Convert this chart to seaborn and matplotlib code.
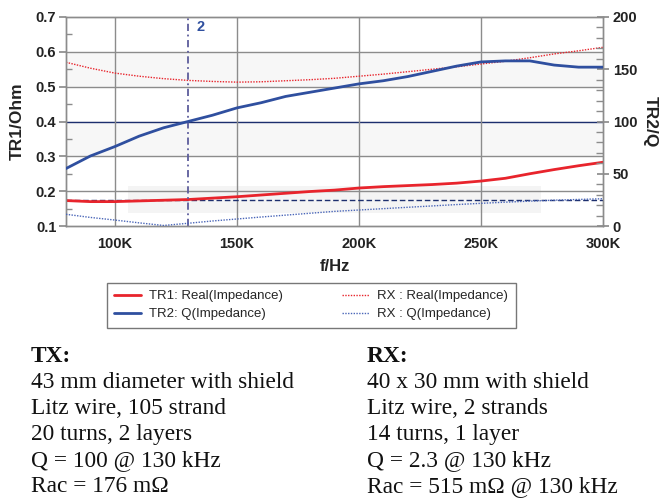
import matplotlib
matplotlib.use("Agg")
import matplotlib.pyplot as plt
import seaborn as sns
import pandas as pd
from matplotlib.patches import Rectangle
from matplotlib.ticker import MultipleLocator, FuncFormatter

# ---------------- data ----------------
freq_khz = [80, 90, 100, 110, 120, 130, 140, 150, 160, 170, 180, 190,
            200, 210, 220, 230, 240, 250, 260, 270, 280, 290, 300]
tr1_real = [0.173, 0.170, 0.170, 0.172, 0.174, 0.176, 0.180, 0.184, 0.189, 0.194, 0.199, 0.203,
            0.209, 0.213, 0.216, 0.219, 0.223, 0.229, 0.237, 0.250, 0.262, 0.273, 0.283]
tr2_q = [55, 67, 76, 86, 94, 100, 106, 113, 118, 124, 128, 132,
         136, 139, 143, 148, 153, 157, 158, 158, 154, 152, 152]
rx_real = [0.570, 0.553, 0.539, 0.530, 0.523, 0.518, 0.515, 0.513, 0.514, 0.517, 0.520, 0.524,
           0.530, 0.536, 0.543, 0.550, 0.557, 0.565, 0.573, 0.583, 0.594, 0.603, 0.613]
rx_q = [11.2, 8.2, 5.7, 3.0, 0.5, 2.6, 4.8, 6.7, 8.6, 10.4, 12.2, 14.0,
        15.3, 16.6, 17.9, 19.2, 20.5, 21.7, 22.8, 23.8, 24.7, 25.4, 26.1]
marker_freq_khz = 130
rac_ref = 0.176
x_ticks_khz = [100, 150, 200, 250, 300]
legend_labels = ["TR1: Real(Impedance)", "TR2: Q(Impedance)",
                 "RX : Real(Impedance)", "RX : Q(Impedance)"]
tx_lines = ["43 mm diameter with shield", "Litz wire, 105 strand", "20 turns, 2 layers",
            "Q = 100 @ 130 kHz", "Rac = 176 mΩ"]
rx_lines = ["40 x 30 mm with shield", "Litz wire, 2 strands", "14 turns, 1 layer",
            "Q = 2.3 @ 130 kHz", "Rac = 515 mΩ @ 130 kHz"]

df = pd.DataFrame({"f": [v * 1000 for v in freq_khz], "tr1": tr1_real, "tr2": tr2_q,
                   "rxr": rx_real, "rxq": rx_q})

# ---------------- style ----------------
sns.set_theme(style="white")
plt.rcParams["font.family"] = ["Liberation Sans", "DejaVu Sans"]

RED = "#e8242c"
BLUE = "#2f4f9f"
NAVY = "#1d2f6e"
GRID = "#8c8c8c"
BAND = "#f7f7f7"
TXT = "#222222"

fig = plt.figure(figsize=(6.62, 4.99), dpi=100)
ax = fig.add_axes([66 / 662, 1 - 226 / 499, (603 - 66) / 662, (226 - 17) / 499])
ax2 = ax.twinx()

ax.set_xlim(80000, 300000)
ax.set_ylim(0.1, 0.7)
ax2.set_ylim(0, 200)

# background bands
ax.axhspan(0.5, 0.6, color=BAND, zorder=0, lw=0)
ax.axhspan(0.3, 0.4, color=BAND, zorder=0, lw=0)
ax.add_patch(Rectangle((105500, 0.138), 274500 - 105500, 0.215 - 0.138,
                       facecolor="#f4f4f4", edgecolor="none", zorder=0))

# grid
for yv in [0.2, 0.3, 0.5, 0.6]:
    ax.axhline(yv, color=GRID, lw=1.0, zorder=1)
ax.axhline(0.4, color=NAVY, lw=1.0, zorder=1)
for xv in [100000, 150000, 200000, 250000]:
    ax.axvline(xv, color=GRID, lw=1.0, zorder=1)

# series
sns.lineplot(data=df, x="f", y="tr1", ax=ax, color=RED, lw=2.0, label=legend_labels[0], zorder=4)
sns.lineplot(data=df, x="f", y="rxr", ax=ax, color=RED, lw=1.0, linestyle=(0, (1, 1)),
             label=legend_labels[2], zorder=4)
sns.lineplot(data=df, x="f", y="tr2", ax=ax2, color=BLUE, lw=2.0, label=legend_labels[1], zorder=4)
sns.lineplot(data=df, x="f", y="rxq", ax=ax2, color="#4a66b8", lw=1.0, linestyle=(0, (1, 1)),
             label=legend_labels[3], zorder=4)

ax.axhline(rac_ref, color=NAVY, lw=1.0, linestyle=(0, (4, 2)), zorder=3)
ax.axvline(marker_freq_khz * 1000, color="#5d5d9c", lw=1.3, linestyle=(0, (4, 2, 1, 2)), zorder=5)
ax.annotate("2", xy=(marker_freq_khz * 1000, 0.7), xytext=(6, -7), textcoords="offset points",
            color=BLUE, fontsize=10.5, fontweight="bold", ha="left", va="center")

# legends from axes removed; build figure legend
h1, l1 = ax.get_legend_handles_labels()
h2, l2 = ax2.get_legend_handles_labels()
ax.get_legend().remove()
ax2.get_legend().remove()
hmap = dict(zip(l1 + l2, h1 + h2))
handles = [hmap[l] for l in legend_labels]
leg = fig.legend(handles, legend_labels, loc="upper left", ncol=2,
                 bbox_to_anchor=(107 / 662, 1 - 283 / 499),
                 fontsize=9.5, frameon=True, fancybox=False, handlelength=2.0,
                 borderpad=0.55, labelspacing=0.42, handletextpad=0.65,
                 columnspacing=4.5, borderaxespad=0)
leg.get_frame().set_edgecolor("#555555")
leg.get_frame().set_linewidth(1.0)

# axes formatting
for a in (ax, ax2):
    for s in a.spines.values():
        s.set_color(GRID)
        s.set_linewidth(1.0)
ax.set_xticks([v * 1000 for v in x_ticks_khz])
ax.xaxis.set_major_formatter(FuncFormatter(lambda v, p: f"{int(round(v / 1000))}K"))
ax.xaxis.set_minor_locator(MultipleLocator(10000))
ax.yaxis.set_major_locator(MultipleLocator(0.1))
ax.yaxis.set_minor_locator(MultipleLocator(0.05))
ax.yaxis.set_major_formatter(FuncFormatter(lambda v, p: f"{v:.1f}"))
ax2.yaxis.set_major_locator(MultipleLocator(50))
ax2.yaxis.set_minor_locator(MultipleLocator(10))

ax.tick_params(axis="x", which="major", direction="out", length=5, color=GRID, pad=3,
               labelsize=10.5, labelcolor=TXT)
ax.tick_params(axis="x", which="minor", direction="in", length=4, color=GRID)
ax.tick_params(axis="y", which="major", direction="out", length=5, color=GRID, pad=2,
               labelsize=10.5, labelcolor=TXT)
ax.tick_params(axis="y", which="minor", direction="in", length=4, color=GRID)
ax2.tick_params(axis="y", which="major", direction="inout", length=8, color=GRID, pad=3,
                labelsize=10.5, labelcolor=TXT)
ax2.tick_params(axis="y", which="minor", direction="in", length=5, color=GRID)
for lab in ax.get_xticklabels() + ax.get_yticklabels() + ax2.get_yticklabels():
    lab.set_fontweight("bold")

ax.set_xlabel("f/Hz", fontsize=12, fontweight="bold", labelpad=6, color=TXT)
ax.set_ylabel("TR1/Ohm", fontsize=12.5, fontweight="bold", labelpad=8, color=TXT)
ax2.set_ylabel("TR2/Q", fontsize=12.5, fontweight="bold", rotation=-90, labelpad=15, color=TXT)

# text block
serif = ["Liberation Serif", "DejaVu Serif"]
FS = 16.8
y0 = 356
dy = 26.2
fig.text(31 / 662, 1 - y0 / 499, "TX:", fontsize=FS, fontweight="bold", family=serif,
         va="center", ha="left", color="#111111")
fig.text(367 / 662, 1 - y0 / 499, "RX:", fontsize=FS, fontweight="bold", family=serif,
         va="center", ha="left", color="#111111")
for i, (t1, t2) in enumerate(zip(tx_lines, rx_lines)):
    yy = 1 - (y0 + dy * (i + 1)) / 499
    fig.text(31 / 662, yy, t1, fontsize=FS, family=serif, va="center", ha="left", color="#111111")
    fig.text(367 / 662, yy, t2, fontsize=FS, family=serif, va="center", ha="left", color="#111111")

fig.savefig("out.png", dpi=100)
